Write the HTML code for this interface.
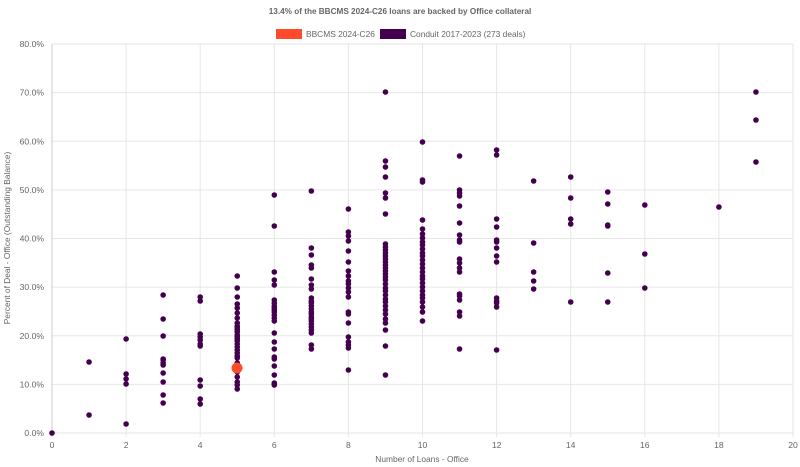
<!DOCTYPE html>
<html><head><meta charset="utf-8"><style>
html,body{margin:0;padding:0;background:#fff;width:800px;height:467px;overflow:hidden}
svg text{font-family:"Liberation Sans",sans-serif;fill:#666}
</style></head><body>
<svg id="s" width="800" height="467" xmlns="http://www.w3.org/2000/svg">
<text x="400" y="14" font-size="8.2" font-weight="bold" text-anchor="middle">13.4% of the BBCMS 2024-C26 loans are backed by Office collateral</text>
<rect x="276" y="29" width="26" height="10" fill="#ff4b2b"/>
<text x="306" y="37" font-size="8.4">BBCMS 2024-C26</text>
<rect x="380" y="29" width="26" height="10" fill="#44004f"/>
<text x="410" y="37" font-size="8.4">Conduit 2017-2023 (273 deals)</text>
<g id="grid"></g>
<text transform="translate(10,238) rotate(-90)" font-size="8.4" text-anchor="middle">Percent of Deal - Office (Outstanding Balance)</text>
<text x="422" y="462" font-size="8.4" text-anchor="middle">Number of Loans - Office</text>
<g id="dots" fill="#44004f"></g>
<circle cx="237" cy="368" r="5.5" fill="#ff4b2b"/>
</svg>
<script>
var ns="http://www.w3.org/2000/svg",g=document.getElementById('grid'),d=document.getElementById('dots');
function el(p,t,a){var e=document.createElementNS(ns,t);for(var k in a)e.setAttribute(k,a[k]);p.appendChild(e);return e;}
for(var i=0;i<=8;i++){var y=433-i*48.625;el(g,'line',{x1:52,x2:793,y1:y,y2:y,stroke:'#e6e6e6','stroke-width':1});
var t=el(g,'text',{x:44,y:y+3,'font-size':8.6,'text-anchor':'end'});t.textContent=(i*10)+'.0%';}
for(var i=0;i<=10;i++){var x=52+i*74.1;el(g,'line',{x1:x,x2:x,y1:44,y2:437,stroke:i==0?'#ccc':'#e6e6e6','stroke-width':1});
var t=el(g,'text',{x:x,y:448,'font-size':8.6,'text-anchor':'middle'});t.textContent=i*2;}
var D={0:[433],1:[362,415],2:[339,374,379,384,424],3:[295,319,336,359,360,363,365,373,382,395,403],
4:[297,301,334,337,340,344,346,380,386,399,404],
5:[276,288,297,304,308,313,318,323,326,328,330,332,335,337,339,341,344,347,350,353,356,358,363,372,377,382,385,389],
6:[195,226,272,280,285,300,303,306,308,310,312,315,318,321,333,342,349,357,359,366,375,383,384,385],
7:[191,248,255,265,268,279,285,289,298,301,303,306,309,312,314,317,319,321,324,327,330,333,345,349],
8:[209,232,236,241,251,262,271,276,281,284,288,292,297,312,314,323,337,342,345,348,370],
9:[92,161,167,177,193,198,214,244,247,250,253,256,259,262,265,268,271,274,277,280,284,288,291,295,299,302,306,310,314,319,323,330,346,375],
10:[142,180,182,220,229,234,238,242,245,249,253,256,260,264,268,272,276,279,283,287,291,295,298,302,307,312,321],
11:[156,190,193,196,206,223,235,240,242,259,263,268,272,294,296,300,312,316,349],
12:[150,155,219,227,240,242,248,256,262,298,301,303,307,350],
13:[181,243,272,281,289],14:[177,198,219,224,302],15:[192,204,225,226,273,302],16:[205,254,288],18:[207],19:[92,120,162]};
for(var k in D){var x=52+k*37.05;D[k].forEach(function(y){el(d,'circle',{cx:x,cy:y,r:2.8});});}
</script>
</body></html>
